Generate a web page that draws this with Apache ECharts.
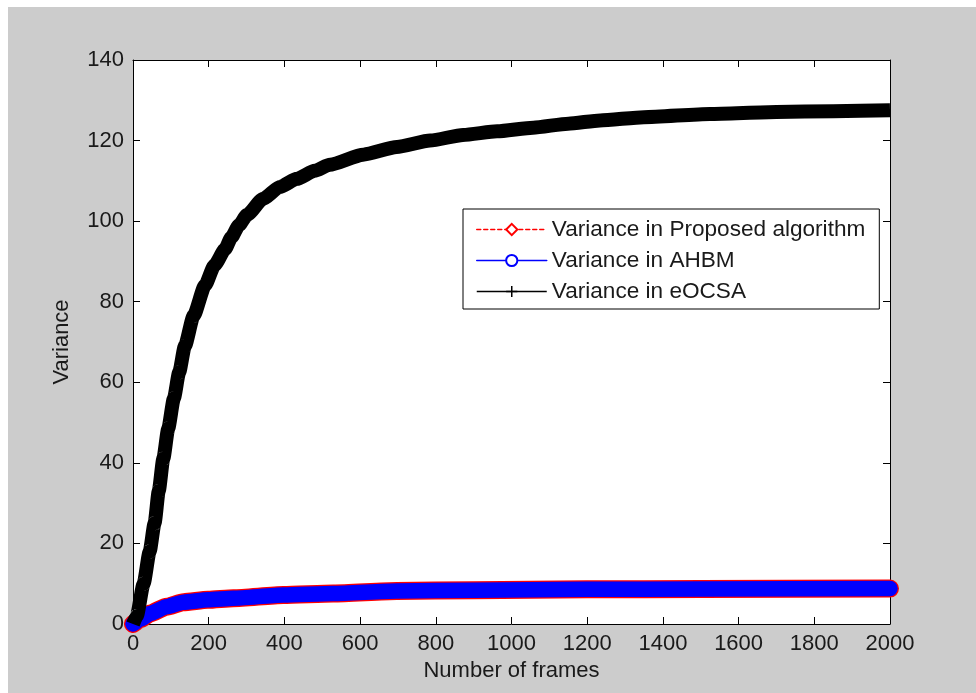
<!DOCTYPE html>
<html>
<head>
<meta charset="utf-8">
<script src="https://cdn.jsdelivr.net/npm/echarts@6/dist/echarts.min.js"></script>
<style>
  html, body { margin: 0; padding: 0; background: #fff; }
  #chart { width: 976px; height: 693px; }
</style>
</head>
<body>
<div id="chart"></div>
<script>
// values: [frame, variance]
const proposed = [
  [0, 0], [20, 1.2], [45, 2.6], [89, 4.3], [133, 5.4], [198, 6.0], [265, 6.4],
  [397, 7.2], [529, 7.6], [697, 8.2], [900, 8.4], [1200, 8.6], [1500, 8.7], [2000, 8.8]
];
const ahbm = [
  [0, 0], [20, 1.2], [45, 2.6], [89, 4.3], [133, 5.4], [198, 6.0], [265, 6.4],
  [397, 7.2], [529, 7.6], [697, 8.2], [900, 8.4], [1200, 8.6], [1500, 8.7], [2000, 8.8]
];
const eocsa = [
  [0, 0], [10, 2], [28, 10], [44, 18], [57, 25], [68, 33], [80, 41], [93, 48.5],
  [108, 56], [122, 62.5], [137, 69], [160, 76.5], [190, 84], [215, 89], [243, 93],
  [260, 96], [280, 99], [301, 101.5], [343, 105.5], [388, 108.5], [433, 110.5],
  [480, 112.5], [520, 114], [608, 116.5], [697, 118.4], [785, 120], [872, 121.4],
  [962, 122.3], [1057, 123.2], [1150, 124.2], [1234, 125], [1350, 125.8],
  [1524, 126.6], [1700, 127.1], [1850, 127.3], [2000, 127.5]
];
const seriesNames = ['Variance in Proposed algorithm', 'Variance in AHBM', 'Variance in eOCSA'];
const xTitle = 'Number of frames';
const yTitle = 'Variance';

const font = 'Liberation Sans, Arial, sans-serif';
const textColor = '#1a1a1a';
const plus = 'path://M5,0L5,10M0,5L10,5';

const chart = echarts.init(document.getElementById('chart'));

const frameAxis = (pos) => ({
  type: 'value',
  position: pos,
  min: 0,
  max: 2000,
  interval: 200,
  axisLine: { show: true, onZero: false, lineStyle: { color: '#000', width: 1 } },
  axisTick: { show: true, inside: true, length: 7, lineStyle: { color: '#000' } },
  splitLine: { show: false },
  axisLabel: {
    show: pos === 'bottom', color: textColor, fontSize: 22, fontFamily: font, margin: 9,
    formatter: (v) => String(v)
  },
  name: pos === 'bottom' ? xTitle : '',
  nameLocation: 'middle',
  nameGap: 35,
  nameTextStyle: { color: textColor, fontSize: 22, fontFamily: font }
});
const varAxis = (pos) => ({
  type: 'value',
  position: pos,
  min: 0,
  max: 140,
  interval: 20,
  axisLine: { show: true, onZero: false, lineStyle: { color: '#000', width: 1 } },
  axisTick: { show: true, inside: true, length: 7, lineStyle: { color: '#000' } },
  splitLine: { show: false },
  axisLabel: { show: pos === 'left', color: textColor, fontSize: 22, fontFamily: font, margin: 9 },
  name: pos === 'left' ? yTitle : '',
  nameLocation: 'middle',
  nameGap: 60,
  nameTextStyle: { color: textColor, fontSize: 22, fontFamily: font }
});

chart.setOption({
  animation: false,
  backgroundColor: '#fff',
  textStyle: { fontFamily: font },
  graphic: [
    { type: 'rect', z: -10, shape: { x: 8, y: 7, width: 968, height: 686 }, style: { fill: '#cccccc' } }
  ],
  grid: {
    left: 133, top: 60, right: 86, bottom: 69,
    show: true, backgroundColor: '#fff', borderWidth: 0
  },
  xAxis: [frameAxis('bottom'), frameAxis('top')],
  yAxis: [varAxis('left'), varAxis('right')],
  legend: {
    orient: 'vertical',
    left: 463,
    top: 209,
    padding: [9, 14, 6, 13],
    itemWidth: 70,
    itemHeight: 14,
    itemGap: 8,
    backgroundColor: '#fff',
    borderColor: '#000',
    borderWidth: 1,
    borderRadius: 0,
    textStyle: { color: textColor, fontSize: 22.6, fontFamily: font },
    data: [
      { name: seriesNames[0], lineStyle: { color: '#ff0000', width: 1.5, type: [4, 3] }, itemStyle: { color: '#ff0000' } },
      { name: seriesNames[1], lineStyle: { color: '#0000ff', width: 1.5, type: 'solid' }, itemStyle: { color: '#0000ff' } },
      { name: seriesNames[2], lineStyle: { color: '#000000', width: 1.5, type: 'solid' }, itemStyle: { color: 'none', borderColor: '#000', borderWidth: 1.5 } }
    ]
  },
  series: [
    {
      name: seriesNames[0], type: 'line', data: proposed,
      symbol: 'emptyDiamond', showSymbol: false, smooth: 0.2, smoothMonotone: 'x', clip: false,
      itemStyle: { color: '#ff0000' },
      lineStyle: { color: '#ff0000', width: 18, cap: 'round', join: 'round' }
    },
    {
      name: seriesNames[1], type: 'line', data: ahbm,
      symbol: 'emptyCircle', showSymbol: false, smooth: 0.2, smoothMonotone: 'x', clip: false,
      itemStyle: { color: '#0000ff' },
      lineStyle: { color: '#0000ff', width: 15.5, cap: 'round', join: 'round' }
    },
    {
      name: seriesNames[2], type: 'line', data: eocsa,
      symbol: plus, showSymbol: false, smooth: 0.2, smoothMonotone: 'x', clip: false,
      itemStyle: { color: '#000' },
      lineStyle: { color: '#000', width: 14, cap: 'butt', join: 'round' }
    }
  ]
});
</script>
</body>
</html>
